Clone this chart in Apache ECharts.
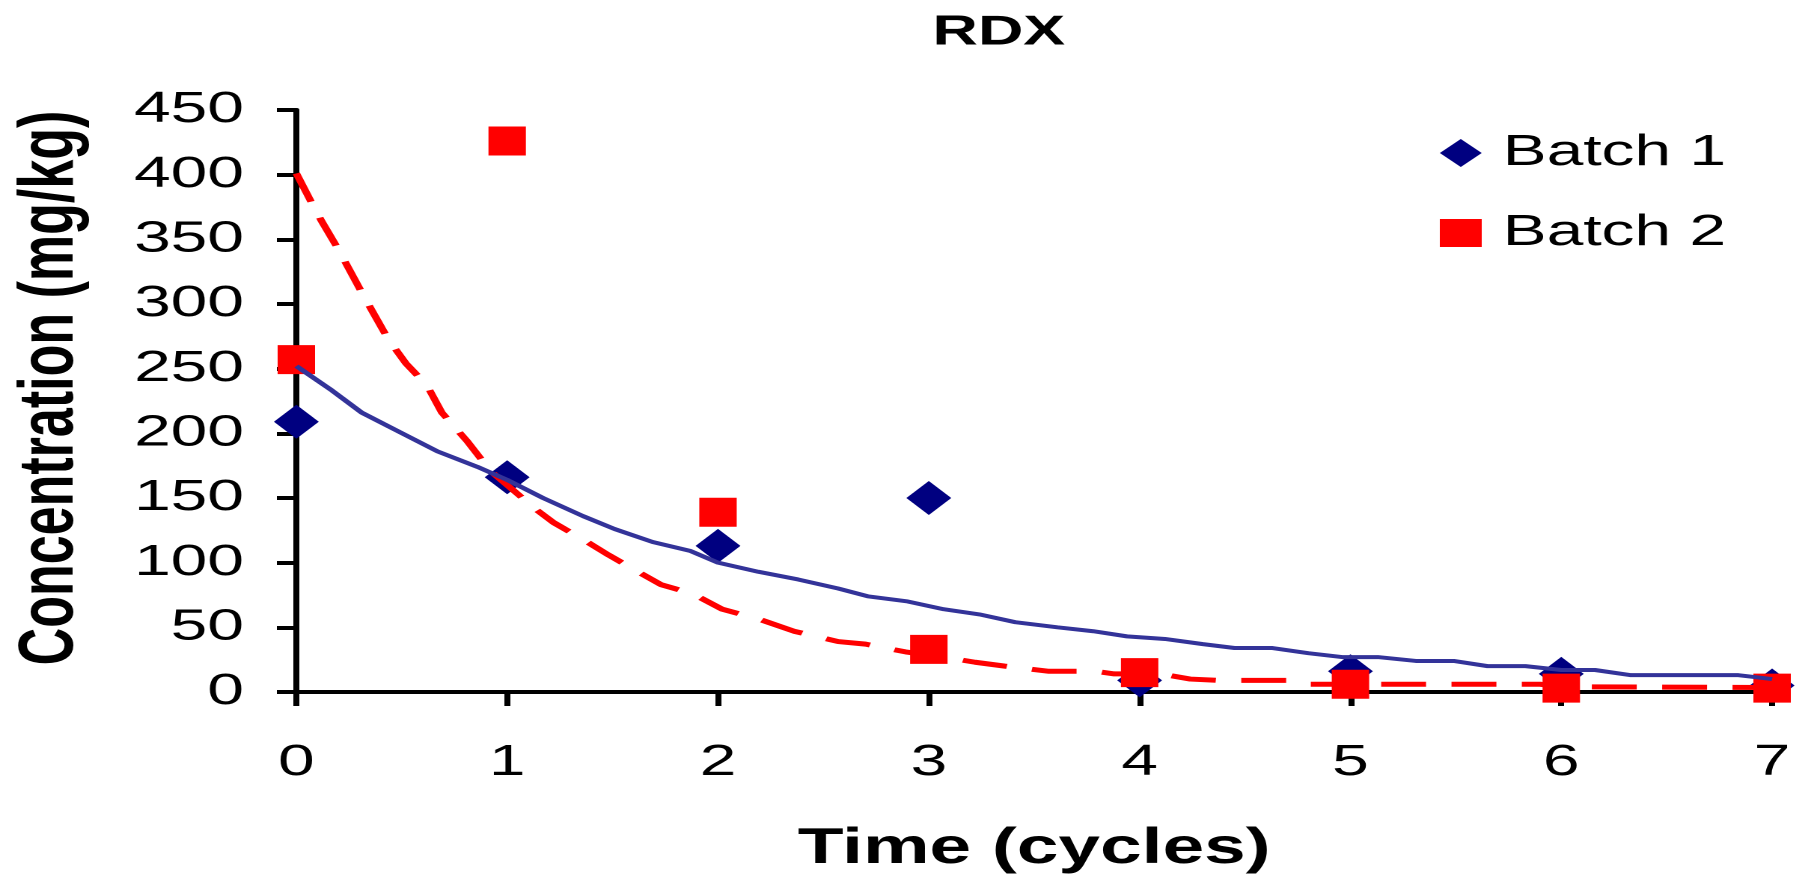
<!DOCTYPE html>
<html>
<head>
<meta charset="utf-8">
<title>RDX</title>
<script src="https://cdn.jsdelivr.net/npm/echarts@6/dist/echarts.min.js"></script>
<style>
  html,body{margin:0;padding:0;overflow:hidden;background:#fff;}
  /* the original figure is stretched sideways, so the chart is drawn narrow and widened */
  #rdx-chart{width:1200px;height:880px;transform:scaleX(1.4967);transform-origin:0 0;}
</style>
</head>
<body>
<div id="rdx-chart"></div>
<script>
  // measured concentrations per cycle
  var cycles = [0, 1, 2, 3, 4, 5, 6, 7];
  var batch1 = [209, 166, 113, 150, 9, 16, 14, 5];
  var batch2 = [257, 426, 139, 33, 15, 6, 3, 3];

  // trend lines, vertices
  var fit1X = [0, 0.17, 0.31, 0.49, 0.67, 0.86, 1.0, 1.17, 1.36, 1.51, 1.69, 1.87, 2.0, 2.19, 2.38, 2.57, 2.71, 2.9, 3.07, 3.24, 3.41, 3.61, 3.78, 3.94, 4.12, 4.3, 4.45, 4.63, 4.8, 4.96, 5.13, 5.31, 5.49, 5.65, 5.83, 6.0, 6.16, 6.33, 6.51, 6.69, 6.84, 7.0];
  var fit1Y = [252, 233, 216, 201, 186, 174, 164, 150, 136, 126, 116, 109, 100, 93, 87, 80, 74, 70, 64, 60, 54, 50, 47, 43, 41, 37, 34, 34, 30, 27, 27, 24, 24, 20, 20, 17, 17, 13, 13, 13, 13, 10];
  var fit2X = [0, 0.07, 0.12, 0.2, 0.32, 0.435, 0.52, 0.62, 0.69, 0.81, 0.92, 1.0, 1.13, 1.22, 1.38, 1.48, 1.62, 1.73, 1.88, 2.02, 2.2, 2.36, 2.57, 2.7, 2.89, 3.07, 3.22, 3.36, 3.57, 3.79, 3.88, 4.1, 4.24, 4.37, 4.58, 4.7, 4.8, 5.0, 5.9, 6.0, 7.0];
  var fit2Y = [401, 379, 364, 342, 306, 273, 254, 237, 216, 194, 171, 160, 142, 131, 116, 106, 93, 83, 76, 64, 56, 47, 39, 37, 31, 27, 23, 20, 16, 16, 14, 14, 10, 9, 9, 9, 6, 6, 6, 4, 3.5];

  function pairs(xs, ys) {
    return xs.map(function (x, i) { return [x, ys[i]]; });
  }

  var fontName = "'Liberation Sans', Arial, sans-serif";
  var rdxChart = echarts.init(document.getElementById('rdx-chart'), null, {devicePixelRatio: 2});

  var rdxOption = {
    animation: false,
    backgroundColor: '#fff',
    textStyle: {fontFamily: fontName},
    title: {
      text: 'RDX',
      left: 618,
      top: 7,
      textStyle: {fontSize: 42, fontWeight: 'bold', color: '#000', fontFamily: fontName}
    },
    legend: {
      data: [{name: 'Batch 1', icon: 'diamond'}, {name: 'Batch 2', icon: 'rect'}],
      orient: 'vertical',
      left: 957,
      top: 126,
      itemGap: 36,
      itemWidth: 28,
      itemHeight: 28,
      textStyle: {fontSize: 44, color: '#000', fontFamily: fontName, lineHeight: 44, padding: [0, 0, 0, 9]}
    },
    grid: {left: 197, right: 16, top: 110, bottom: 188},
    xAxis: {
      type: 'value',
      min: 0,
      max: 7,
      interval: 1,
      name: 'Time (cycles)',
      nameLocation: 'middle',
      nameGap: 132,
      nameTextStyle: {fontSize: 50, fontWeight: 'bold', color: '#000', fontFamily: fontName},
      axisLine: {lineStyle: {color: '#000', width: 4}},
      axisTick: {show: true, length: 14, lineStyle: {color: '#000', width: 4}},
      axisLabel: {fontSize: 44, color: '#000', margin: 49, fontFamily: fontName},
      splitLine: {show: false}
    },
    yAxis: {
      type: 'value',
      min: 0,
      max: 450,
      interval: 50,
      name: 'Concentration (mg/kg)',
      nameLocation: 'middle',
      nameRotate: 90,
      nameGap: 138,
      nameTextStyle: {fontSize: 52, fontWeight: 'bold', color: '#000', fontFamily: fontName, padding: [0, 0, 0, 26]},
      axisLine: {show: true, lineStyle: {color: '#000', width: 4}},
      axisTick: {show: true, length: 13, lineStyle: {color: '#000', width: 4}},
      axisLabel: {fontSize: 44, color: '#000', margin: 35, fontFamily: fontName},
      splitLine: {show: false}
    },
    series: [
      {
        name: 'Batch 1',
        type: 'scatter',
        symbol: 'diamond',
        symbolSize: [30, 34],
        itemStyle: {color: '#000080', opacity: 1},
        data: pairs(cycles, batch1),
        z: 2
      },
      {
        name: 'Batch 2',
        type: 'scatter',
        symbol: 'rect',
        symbolSize: [25, 29],
        itemStyle: {color: '#ff0000', opacity: 1},
        data: pairs(cycles, batch2),
        z: 3
      },
      {
        name: 'Batch 2 trend',
        type: 'line',
        showSymbol: false,
        silent: true,
        lineStyle: {color: '#ff0000', width: 5, type: [30, 17]},
        data: pairs(fit2X, fit2Y),
        z: 4
      },
      {
        name: 'Batch 1 trend',
        type: 'line',
        showSymbol: false,
        silent: true,
        lineStyle: {color: '#333399', width: 4},
        data: pairs(fit1X, fit1Y),
        z: 5
      }
    ]
  };

  rdxOption && rdxChart.setOption(rdxOption);
</script>
</body>
</html>
